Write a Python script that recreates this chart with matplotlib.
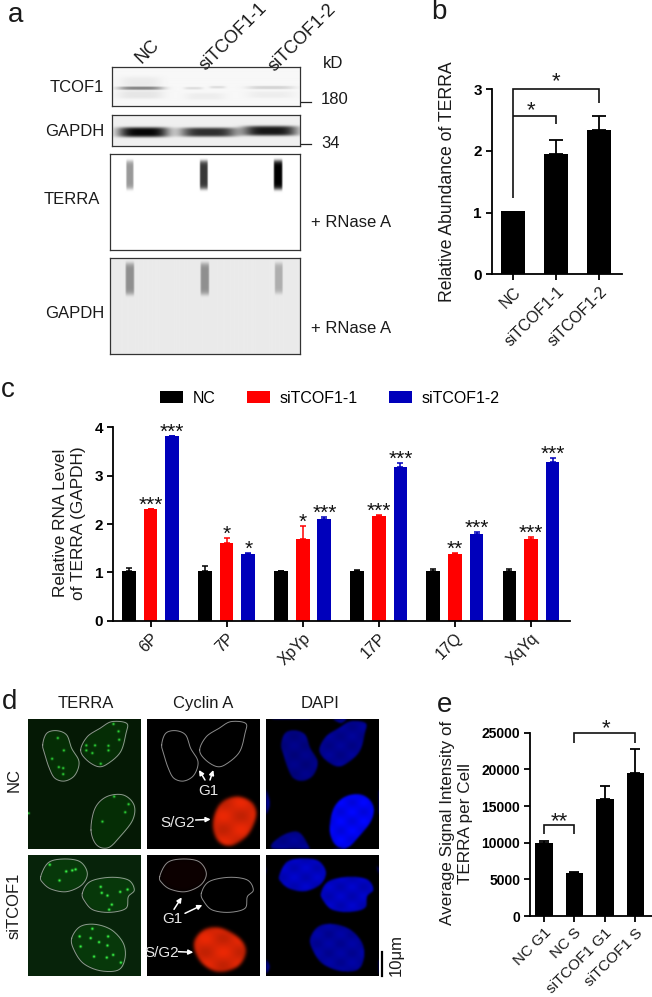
import numpy as np
import matplotlib
matplotlib.use("Agg")
import matplotlib.pyplot as plt
from matplotlib.path import Path

plt.rcParams['font.family'] = ['Liberation Sans', 'DejaVu Sans']
W, H = 652, 997
fig = plt.figure(figsize=(W / 100, H / 100), dpi=100)

# ---------- data ----------
b_labels = ['NC', 'siTCOF1-1', 'siTCOF1-2']
b_values = [1.02, 1.95, 2.34]
b_upper = [0, 0.23, 0.23]

c_groups = ['6P', '7P', 'XpYp', '17P', '17Q', 'XqYq']
c_nc = [1.03, 1.03, 1.02, 1.02, 1.03, 1.03]
c_nc_err = [0.05, 0.10, 0.01, 0.03, 0.03, 0.03]
c_si1 = [2.30, 1.61, 1.69, 2.16, 1.38, 1.69]
c_si1_err = [0.02, 0.10, 0.26, 0.03, 0.03, 0.04]
c_si2 = [3.81, 1.38, 2.10, 3.17, 1.79, 3.29]
c_si2_err = [0.0, 0.02, 0.05, 0.09, 0.05, 0.08]
c_si1_stars = ['***', '*', '*', '***', '**', '***']
c_si2_stars = ['***', '*', '***', '***', '***', '***']

e_labels = ['NC G1', 'NC S', 'siTCOF1 G1', 'siTCOF1 S']
e_values = [9950, 5850, 15900, 19450]
e_upper = [300, 200, 1800, 3350]

# blot bands: x centre, x half width, y centre, y half height, strength
tcof1_bands = [(422, 68, 266, 5, 0.42), (422, 68, 285, 12, 0.07), (422, 60, 250, 18, 0.05),
               (580, 28, 266, 4, 0.10), (652, 24, 263, 4, 0.10), (615, 60, 290, 10, 0.04),
               (812, 70, 264, 5, 0.14), (812, 70, 285, 10, 0.04)]
gapdh_bands = [(430, 76, 397, 15, 0.92), (625, 85, 397, 14, 0.76), (810, 82, 393, 15, 0.85)]
terra_bands = [(388, 11, 525, 43, 0.40), (609, 12, 525, 43, 0.78), (831, 13, 525, 44, 1.0)]
gapdh2_bands = [(388, 13, 837, 48, 0.36), (612, 13, 837, 48, 0.36), (833, 12, 835, 46, 0.24)]

# nucleus outlines (reference zoom pixels)
nuc_a = [(128, 195), (140, 160), (170, 152), (200, 165), (215, 205), (237, 245), (225, 285), (195, 303), (165, 295), (148, 265), (135, 225)]
nuc_b = [(242, 210), (262, 170), (300, 145), (335, 125), (380, 130), (378, 160), (362, 215), (325, 250), (295, 260), (260, 240)]
nuc_c = [(273, 450), (285, 385), (320, 350), (370, 345), (402, 375), (398, 420), (360, 470), (325, 503), (290, 495)]
nuc_d = [(122, 590), (145, 548), (190, 537), (240, 545), (262, 580), (245, 615), (200, 635), (155, 628), (130, 610)]
nuc_e = [(247, 640), (270, 605), (330, 592), (385, 600), (403, 630), (385, 650), (378, 685), (330, 697), (280, 690), (255, 665)]
nuc_f = [(215, 775), (240, 740), (285, 733), (335, 750), (370, 790), (375, 835), (355, 870), (300, 872), (250, 850), (222, 810)]
spots_nc = [(175, 262), (188, 265), (155, 237), (172, 175), (190, 212), (188, 283), (323, 198), (323, 212), (353, 155),
            (338, 133), (355, 180), (283, 197), (257, 197), (257, 212), (275, 220), (300, 252), (383, 373), (373, 397),
            (340, 350), (85, 400), (305, 425)]
spots_si = [(177, 603), (197, 576), (215, 573), (148, 556), (225, 570), (300, 622), (303, 640), (320, 648), (358, 637),
            (380, 630), (333, 675), (325, 690), (275, 747), (237, 770), (270, 775), (295, 787), (322, 770), (320, 797),
            (280, 830), (318, 833), (337, 825), (360, 848), (240, 800)]
red_nc = [(637, 425), (660, 370), (710, 350), (755, 370), (765, 410), (740, 465), (690, 497), (650, 480)]
red_si = [(580, 790), (610, 750), (660, 745), (715, 775), (735, 815), (710, 860), (650, 875), (600, 845)]
dapi_extra_nc = [[(990, 110), (1040, 110), (1020, 130)], [(790, 320), (808, 365), (800, 400), (785, 400)],
                 [(815, 505), (840, 470), (890, 455), (920, 490), (918, 515)]]
dapi_extra_si = [[(797, 840), (808, 860), (797, 880)], [(1128, 560), (1134, 570), (1134, 585)]]


# ---------- helpers ----------
def ax_px(l, t, r, b):
    return fig.add_axes([l / W, 1 - b / H, (r - l) / W, (b - t) / H])


ov = fig.add_axes([0, 0, 1, 1], zorder=10)
ov.set_xlim(0, W)
ov.set_ylim(H, 0)
ov.axis('off')
ov.patch.set_alpha(0)


def T(x, y, s, size=12, **kw):
    kw.setdefault('ha', 'center')
    kw.setdefault('va', 'center')
    kw.setdefault('color', '#1a1a1a')
    return ov.text(x, y, s, fontsize=size, **kw)


def style(ax):
    for s in ('top', 'right'):
        ax.spines[s].set_visible(False)
    for s in ('left', 'bottom'):
        ax.spines[s].set_linewidth(1.3)
    ax.tick_params(width=1.3, length=4.5, pad=2.5)
    ax.patch.set_alpha(0)


def bracket(ax, x0, x1, y_top, y_left, y_right):
    ax.plot([x0, x0, x1, x1], [y_left, y_top, y_top, y_right], color='#111', lw=1.2,
            clip_on=False, solid_joinstyle='miter', solid_capstyle='butt')


def sg(t, c, h, e=4):
    return np.exp(-np.abs((t - c) / h) ** e)


def blot(l, t, r, b, bands, bg, ex=4):
    # l,t,r,b in zoom pixels (3x)
    a = ax_px(l / 3, t / 3, r / 3, b / 3)
    X, Y = np.meshgrid(np.arange(l, r), np.arange(t, b))
    I = np.full(X.shape, float(bg))
    for cx, hx, cy, hy, amp in bands:
        I += amp * sg(X, cx, hx, ex) * sg(Y, cy, hy, ex)
    a.imshow(1 - np.clip(I, 0, 1), cmap='gray', vmin=0, vmax=1, extent=(l, r, b, t), aspect='auto')
    a.set_xticks([])
    a.set_yticks([])
    for s in a.spines.values():
        s.set_linewidth(0.9)
        s.set_color('#333')


def closed_curve(pts, n=16):
    p = np.array(pts, float)
    out = []
    m = len(p)
    for i in range(m):
        p0, p1, p2, p3 = p[(i - 1) % m], p[i], p[(i + 1) % m], p[(i + 2) % m]
        for u in np.linspace(0, 1, n, endpoint=False):
            out.append(0.5 * (2 * p1 + (p2 - p0) * u + (2 * p0 - 5 * p1 + 4 * p2 - p3) * u ** 2
                              + (3 * p1 - p0 - 3 * p2 + p3) * u ** 3))
    out = np.array(out)
    return np.vstack([out, out[0]])


def blur(img, s):
    ny, nx = img.shape
    fy = np.fft.fftfreq(ny)[:, None]
    fx = np.fft.rfftfreq(nx)[None, :]
    return np.fft.irfft2(np.fft.rfft2(img) * np.exp(-2 * (np.pi * s) ** 2 * (fx ** 2 + fy ** 2)), s=img.shape)


def mask(l, t, r, b, outline, s=3.0):
    X, Y = np.meshgrid(np.arange(l, r) + .5, np.arange(t, b) + .5)
    m = Path(closed_curve(outline)).contains_points(np.c_[X.ravel(), Y.ravel()]).reshape(X.shape).astype(float)
    return blur(m, s)


def show_rgb(l, t, r, b, rgb):
    a = ax_px(l / 3, 680 + t / 3, r / 3, 680 + b / 3)
    a.imshow(np.clip(rgb, 0, 1), extent=(l, r, b, t), aspect='auto', interpolation='bilinear')
    a.set_xticks([])
    a.set_yticks([])
    for s in a.spines.values():
        s.set_visible(False)


def outline(pts, shift=0):
    c = closed_curve(pts)
    ov.plot((c[:, 0] + shift) / 3, 680 + c[:, 1] / 3, color='#c8c8c8', lw=0.7, alpha=0.7)


def arrow(x0, y0, x1, y1):
    ov.annotate('', xy=(x1 / 3, 680 + y1 / 3), xytext=(x0 / 3, 680 + y0 / 3),
                arrowprops=dict(arrowstyle='-|>', color='white', lw=1.1, mutation_scale=7, shrinkA=0, shrinkB=0))


# ---------- panel a ----------
blot(336, 201, 900, 319, tcof1_bands, 0.03)
blot(336, 346, 900, 439, gapdh_bands, 0.06)
blot(329, 463, 900, 750, terra_bands, 0.0, 8)
blot(329, 775, 900, 1063, gapdh2_bands, 0.08, 8)
T(16, 15, 'a', 20)
T(148, 52, 'NC', 13, rotation=45)
T(233, 37, 'siTCOF1-1', 13, rotation=45)
T(302, 38, 'siTCOF1-2', 13, rotation=45)
T(333, 64, 'kD', 12)
T(335, 99, '180', 12)
T(331, 143, '34', 12)
T(77, 88, 'TCOF1', 12)
T(75, 132, 'GAPDH', 12)
T(72, 199, 'TERRA', 12)
T(75, 313, 'GAPDH', 12)
T(351, 222, '+ RNase A', 12)
T(351, 328, '+ RNase A', 12)
ov.plot([301, 311], [102.5, 102.5], color='#222', lw=0.9)
ov.plot([301, 311], [144.5, 144.5], color='#222', lw=0.9)

# ---------- panel b ----------
ax = ax_px(491.7, 89, 621.7, 274.5)
xb = np.arange(len(b_labels))
ax.bar(xb, b_values, width=0.56, color='black')
ax.errorbar(xb[1:], b_values[1:], yerr=[[0, 0], b_upper[1:]], fmt='none', ecolor='black', elinewidth=1.3, capsize=5, capthick=1.3)
ax.set_xlim(-0.502, 2.52)
ax.set_ylim(0, 3)
ax.set_yticks([0, 1, 2, 3])
ax.set_yticklabels(['0', '1', '2', '3'], fontweight='bold', fontsize=11)
ax.set_xticks(xb)
ax.set_xticklabels(b_labels, rotation=45, ha='right', rotation_mode='anchor', fontsize=11.3, color='#1a1a1a')
ax.set_ylabel('Relative Abundance of TERRA', fontsize=12.7, color='#1a1a1a')
ax.yaxis.set_label_coords(456, 182, transform=ov.transData)
style(ax)
bracket(ax, 0, 2, 3, 1.23, 2.77)
bracket(ax, 0, 1, 2.57, 2.57, 2.43)
T(556, 82, '*', 16)
T(531, 111, '*', 16)
T(439, 12, 'b', 20)

# ---------- panel c ----------
ax = ax_px(113, 427.3, 569.6, 620.7)
xc = np.arange(len(c_groups))
off, bw = 0.284, 0.18
series = [(c_nc, c_nc_err, 'black', 'NC', -off), (c_si1, c_si1_err, '#ff0000', 'siTCOF1-1', 0),
          (c_si2, c_si2_err, '#0000bb', 'siTCOF1-2', off)]
for vals, errs, col, name, d in series:
    ax.bar(xc + d, vals, width=bw, color=col, label=name)
    ax.errorbar(xc + d, vals, yerr=[np.zeros(len(errs)), errs], fmt='none', ecolor=col, elinewidth=1.1, capsize=2.5, capthick=1.1)
star_off = -0.12
for i, s in enumerate(c_si1_stars):
    ax.text(xc[i], c_si1[i] + c_si1_err[i] + star_off, s, ha='center', va='bottom', fontsize=15, clip_on=False, color='#111')
for i, s in enumerate(c_si2_stars):
    ax.text(xc[i] + off, c_si2[i] + c_si2_err[i] + star_off, s, ha='center', va='bottom', fontsize=15, clip_on=False, color='#111')
ax.set_xlim(-0.493, 5.507)
ax.set_ylim(0, 4)
ax.set_yticks([0, 1, 2, 3, 4])
ax.set_yticklabels(['0', '1', '2', '3', '4'], fontweight='bold', fontsize=11)
ax.set_xticks(xc)
ax.set_xticklabels(c_groups, rotation=45, ha='right', rotation_mode='anchor', fontsize=11.5, color='#1a1a1a')
ax.set_ylabel('Relative RNA Level\nof TERRA (GAPDH)', fontsize=12.4, color='#1a1a1a', linespacing=1.25)
ax.yaxis.set_label_coords(86, 523, transform=ov.transData)
style(ax)
leg = ax.legend(loc='center left', bbox_to_anchor=(160, 398), bbox_transform=ov.transData, ncol=3, frameon=False,
                fontsize=11.5, handlelength=1.45, handleheight=0.85, handletextpad=0.6, columnspacing=1.95,
                borderpad=0, borderaxespad=0)
T(8, 390, 'c', 20)

# ---------- panel d ----------
rows = [(118, 507, [nuc_a, nuc_b, nuc_c], spots_nc, red_nc, dapi_extra_nc, (0.02, 0.10, 0.02), [0.55, 0.6, 1.0], 0.8),
        (524, 888, [nuc_d, nuc_e, nuc_f], spots_si, red_si, dapi_extra_si, (0.03, 0.14, 0.04), [0.8, 0.8, 0.65], 1.0)]
for t, b, nucs, spots, red, extras, bgcol, dapi_lv, spot_amp in rows:
    X, Y = np.meshgrid(np.arange(83, 420) + .5, np.arange(t, b) + .5)
    # TERRA
    inside = sum(mask(83, t, 420, b, n, 2) for n in nucs)
    g = np.zeros(X.shape)
    for sx, sy in spots:
        g += spot_amp * np.exp(-((X - sx) ** 2 + (Y - sy) ** 2) / (2 * 2.4 ** 2))
    rgb = np.zeros(X.shape + (3,))
    rgb[..., 0] = bgcol[0] + 0.24 * g
    rgb[..., 1] = bgcol[1] + 0.08 * inside + 1.0 * g
    rgb[..., 2] = bgcol[2] + 0.3 * g
    show_rgb(83, t, 420, b, rgb)
    # Cyclin A
    X2, Y2 = np.meshgrid(np.arange(440, 777) + .5, np.arange(t, b) + .5)
    r = mask(440, t, 777, b, red, 5) * (0.84 + 0.08 * np.sin(X2 / 17) * np.cos(Y2 / 13))
    rgb = np.zeros(X2.shape + (3,))
    rgb[..., 0] = r
    rgb[..., 1] = r * 0.17
    rgb[..., 2] = r * 0.02
    if t > 500:
        rgb[..., 0] += 0.05 * mask(440, t, 777, b, [(x + 357, y) for x, y in nuc_d], 8)
    show_rgb(440, t, 777, b, rgb)
    # DAPI
    X3, Y3 = np.meshgrid(np.arange(797, 1134) + .5, np.arange(t, b) + .5)
    blue = np.zeros(X3.shape)
    for n, lv in zip(nucs, dapi_lv):
        blue += lv * mask(797, t, 1134, b, [(x + 714, y) for x, y in n], 3)
    for n in extras:
        blue += 0.6 * mask(797, t, 1134, b, n, 3)
    blue *= (0.93 + 0.07 * np.sin(X3 / 11) * np.cos(Y3 / 9))
    rgb = np.zeros(X3.shape + (3,))
    rgb[..., 1] = blue * 0.02
    rgb[..., 2] = blue
    show_rgb(797, t, 1134, b, rgb)
    for n in nucs:
        outline(n)
        if n is not nucs[2]:
            outline(n, 357)

T(10, 702, 'd', 20)
T(86, 703, 'TERRA', 12)
T(203, 703, 'Cyclin A', 12)
T(320, 703, 'DAPI', 12)
T(14, 780, 'NC', 12, rotation=90)
T(14, 906, 'siTCOF1', 12, rotation=90)
T(208, 791, 'G1', 11, color='#e8e8e8')
T(178, 823, 'S/G2', 11, color='#e8e8e8')
T(172, 919, 'G1', 11, color='#e8e8e8')
T(162, 953, 'S/G2', 11, color='#e8e8e8')
arrow(615, 300, 597, 270)
arrow(630, 300, 640, 270)
arrow(587, 420, 632, 418)
arrow(522, 688, 545, 652)
arrow(555, 700, 607, 675)
arrow(535, 815, 580, 817)
ov.plot([382, 382], [952, 976], color='black', lw=1.6)
T(396, 955, '10μm', 12, rotation=90)

# ---------- panel e ----------
ax = ax_px(530, 732.7, 651.7, 916)
xe = np.arange(len(e_labels))
ax.bar(xe, e_values, width=0.57, color='black')
ax.errorbar(xe, e_values, yerr=[np.zeros(4), e_upper], fmt='none', ecolor='black', elinewidth=1.3, capsize=3.5, capthick=1.3)
ax.set_xlim(-0.46, 3.54)
ax.set_ylim(0, 25000)
ax.set_yticks([0, 5000, 10000, 15000, 20000, 25000])
ax.set_yticklabels(['0', '5000', '10000', '15000', '20000', '25000'], fontweight='bold', fontsize=10)
ax.set_xticks(xe)
ax.set_xticklabels(e_labels, rotation=45, ha='right', rotation_mode='anchor', fontsize=11, color='#1a1a1a')
ax.set_ylabel('Average Signal Intensity of\nTERRA per Cell', fontsize=12.3, color='#1a1a1a', linespacing=1.25)
ax.yaxis.set_label_coords(473, 823, transform=ov.transData)
style(ax)
bracket(ax, 0, 1, 12450, 11180, 11180)
bracket(ax, 1, 3, 25000, 23640, 23640)
T(559, 822, '**', 16)
T(606, 729, '*', 16)
T(445, 705, 'e', 20)

fig.savefig('out.png', dpi=100)
